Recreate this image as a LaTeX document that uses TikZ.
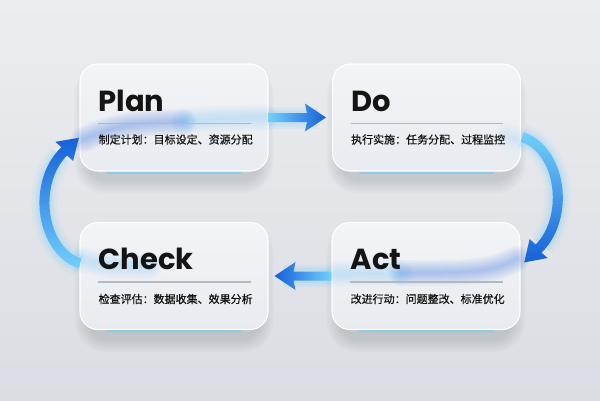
\documentclass[tikz,border=0pt]{standalone}
\usepackage{fontspec}
\newfontfamily\titlefont{Poppins}
\newfontfamily\cjk{Noto Sans CJK SC}[FakeBold=0.6]
\usetikzlibrary{calc}
\pgfdeclarelayer{bgfill}
\pgfdeclarelayer{shadowlayer}
\pgfsetlayers{bgfill,shadowlayer,main}
\definecolor{bgtop}{HTML}{ECEDF0}
\definecolor{bgbot}{HTML}{DADDE3}
\definecolor{boxtop}{HTML}{F3F4F7}
\definecolor{boxbot}{HTML}{E8EBF0}
\definecolor{arrlight}{HTML}{72D0FA}
\definecolor{arrmid}{HTML}{2F8CF0}
\definecolor{arrdark}{HTML}{1560D8}
\definecolor{glowblue}{HTML}{2E6CE6}
\definecolor{glowcyan}{HTML}{6FCBFA}
\definecolor{septext}{HTML}{B4B9C1}
\definecolor{inktext}{HTML}{141414}
\definecolor{shadowc}{HTML}{5A6475}
\begin{document}
\begin{tikzpicture}[x=1pt,y=-1pt,
  glass/.style={rounded corners=18pt, minimum width=188pt, minimum height=107pt,
    draw=white, line width=1.1pt, top color=boxtop, bottom color=boxbot},
  title/.style={anchor=base west, inner sep=0pt,
    font=\titlefont\bfseries\fontsize{29}{30}\selectfont, text=inktext},
  sub/.style={anchor=west, inner sep=0pt,
    font=\cjk\fontsize{11}{13}\selectfont, text=inktext},
  sepline/.style={draw=septext, line width=1.1pt},
  edgeglow/.style={draw=glowcyan, line width=2pt, opacity=0.6, line cap=round},
  softb/.style={glowblue, opacity=0.045, line cap=round},
  softc/.style={glowcyan, opacity=0.04, line cap=round},
]
\useasboundingbox (0,0) rectangle (600,400);
\begin{pgfonlayer}{bgfill}
\shade[top color=bgtop, bottom color=bgbot] (0,0) rectangle (600,400);
\end{pgfonlayer}

% boxes
\node[glass] (plan)  at (174,117.5) {};
\node[glass] (do)    at (426.5,117.5) {};
\node[glass] (check) at (174,276) {};
\node[glass] (act)   at (426,276) {};

\begin{pgfonlayer}{shadowlayer}
\foreach \b in {plan,do,check,act}{
  \foreach \k in {0,...,13}{
    \fill[shadowc, opacity=0.016, rounded corners=18+\k]
      ($(\b.north west)+(8-\k,12-\k)$) rectangle ($(\b.south east)+(-8+\k,9+\k)$);
  }
}
\end{pgfonlayer}

\foreach \b in {plan,do,check,act}{
  \draw[edgeglow] ($(\b.south west)+(28,1)$) -- ($(\b.south east)+(-28,1)$);
}

% glows seen through the glass
\foreach \w in {26,23,...,2}{
  \draw[softb, line width=\w pt]
    ($(plan.west)+(4,22)$) .. controls ($(plan.west)+(40,6)$) and ($(plan.center)+(-40,6)$) .. ($(plan.center)+(10,4)$);
  \draw[softc, line width=\w pt]
    ($(plan.center)+(10,4)$) .. controls ($(plan.center)+(40,1)$) .. ($(plan.east)+(-4,0)$);
  \draw[softb, line width=\w pt]
    ($(act.center)+(-25,-3)$) .. controls ($(act.center)+(40,-3)$) and ($(act.east)+(-30,-3)$) .. ($(act.east)+(-4,-17)$);
  \draw[softc, line width=\w pt]
    ($(act.west)+(4,-2)$) -- ($(act.center)+(-25,-3)$);
  \draw[softc, line width=\w pt]
    ($(check.west)+(4,-16)$) .. controls ($(check.west)+(30,-10)$) .. ($(check.west)+(70,-10)$);
  \draw[softc, line width=\w pt, opacity=0.025]
    ($(do.east)+(-4,22)$) -- ($(do.east)+(-14,19)$);
}

% texts
\node[title] (plant)  at ($(plan.north west)+(19,48.5)$) {Plan};
\node[title] (dot)    at ($(do.north west)+(19,48.5)$) {Do};
\node[title] (checkt) at ($(check.north west)+(19,47.5)$) {Check};
\node[title] (actt)   at ($(act.north west)+(19,47.5)$) {Act};

\foreach \b in {plan,do,check,act}{
  \draw[sepline] ($(\b.north west)+(19,60)$) -- ($(\b.north east)+(-18,60)$);
}

\node[sub] (plans)  at ($(plan.north west)+(19,76)$) {制定计划：目标设定、资源分配};
\node[sub] (dos)    at ($(do.north west)+(19,76)$) {执行实施：任务分配、过程监控};
\node[sub] (checks) at ($(check.north west)+(19,77)$) {检查评估：数据收集、效果分析};
\node[sub] (acts)   at ($(act.north west)+(19,77)$) {改进行动：问题整改、标准优化};

% straight arrows
\foreach \w in {22,18,14}{
  \draw[glowcyan, line width=\w pt, opacity=0.1] (plan.east) -- ($(do.west)+(-14,0)$);
  \draw[glowcyan, line width=\w pt, opacity=0.1] (act.west) -- ($(check.east)+(14,0)$);
}
\shade[left color=arrlight, middle color=arrmid, right color=arrdark]
  ($(plan.east)+(0,-4.5)$) -- ($(do.west)+(-25,-4.5)$) -- ($(do.west)+(-27,-14)$)
  -- ($(do.west)+(-6,0)$) -- ($(do.west)+(-27,14)$) -- ($(do.west)+(-25,4.5)$)
  -- ($(plan.east)+(0,4.5)$) -- cycle;

\shade[left color=arrdark, middle color=arrmid, right color=arrlight]
  ($(act.west)+(0,-4.5)$) -- ($(check.east)+(25,-4.5)$) -- ($(check.east)+(27,-14)$)
  -- ($(check.east)+(6,0)$) -- ($(check.east)+(27,14)$) -- ($(check.east)+(25,4.5)$)
  -- ($(act.west)+(0,4.5)$) -- cycle;

% curved arrows
\coordinate (rc) at ($(do.south east)!0.5!(act.north east)+(-8,1)$);
\coordinate (lc) at ($(plan.south west)!0.5!(check.north west)+(10,6)$);

\foreach \w/\o in {26/0.07,20/0.1,15/0.14}{
  \draw[glowcyan, line width=\w pt, opacity=\o]
    ($(rc)+({45*cos(-78)},{62*sin(-78)})$) arc[start angle=-78, end angle=50, x radius=45, y radius=62];
  \draw[glowcyan, line width=\w pt, opacity=\o]
    ($(lc)+({45*cos(102)},{62*sin(102)})$) arc[start angle=102, end angle=230, x radius=45, y radius=62];
}

\shade[top color=arrlight, bottom color=arrdark]
  ($(rc)+({50*cos(-78)},{67*sin(-78)})$) arc[start angle=-78, end angle=55, x radius=50, y radius=67]
  -- ($(rc)+(34.8,60.2)$) -- ($(rc)+(11.4,64.7)$) -- ($(rc)+(16.8,41.4)$)
  -- ($(rc)+({40*cos(55)},{57*sin(55)})$) arc[start angle=55, end angle=-78, x radius=40, y radius=57]
  -- cycle;

\shade[top color=arrdark, bottom color=arrlight]
  ($(lc)+({50*cos(102)},{67*sin(102)})$) arc[start angle=102, end angle=236, x radius=50, y radius=67]
  -- ($(lc)+(-34.1,-60.9)$) -- ($(lc)+(-10.6,-65)$) -- ($(lc)+(-16.3,-41.9)$)
  -- ($(lc)+({40*cos(236)},{57*sin(236)})$) arc[start angle=236, end angle=102, x radius=40, y radius=57]
  -- cycle;
\end{tikzpicture}
\end{document}
